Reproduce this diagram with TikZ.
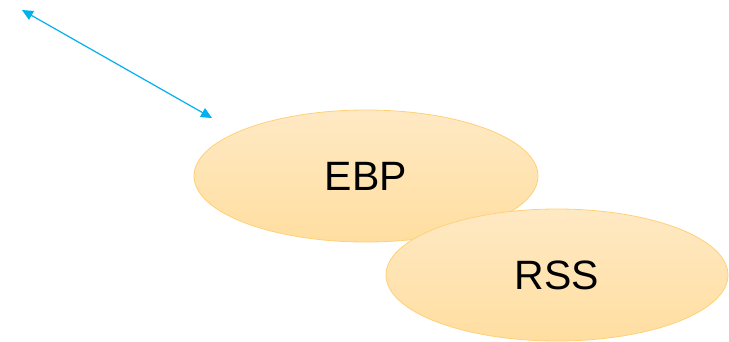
\documentclass[tikz,border=0pt]{standalone}
\usepackage{fontspec}
\setmainfont{Liberation Sans}
\usetikzlibrary{shapes.geometric,arrows.meta}
\definecolor{ellfillT}{HTML}{FFE9C4}
\definecolor{ellfillB}{HTML}{FFDEA0}
\definecolor{elldraw}{HTML}{FFD177}
\definecolor{arrowc}{HTML}{00B0F0}
\tikzset{
  blob/.style={ellipse, draw=elldraw, line width=0.8pt, top color=ellfillT, bottom color=ellfillB,
    minimum width=344pt, minimum height=132pt, inner sep=0pt, font=\fontsize{41}{41}\selectfont},
  link/.style={draw=arrowc, line width=1.2pt, {Triangle[length=11pt,width=10pt]}-{Triangle[length=11pt,width=10pt]}}
}
\begin{document}
\begin{tikzpicture}[x=1pt,y=-1pt]
\useasboundingbox (0,0) rectangle (729,341);
\node[blob] (ebp) at (366,176) {EBP};
\node[blob, minimum width=342pt] (rss) at (557,275) {RSS};
\coordinate (a) at (22,10);
\coordinate (b) at (212,118);
\draw[link] (a) -- (b);
\end{tikzpicture}
\end{document}
